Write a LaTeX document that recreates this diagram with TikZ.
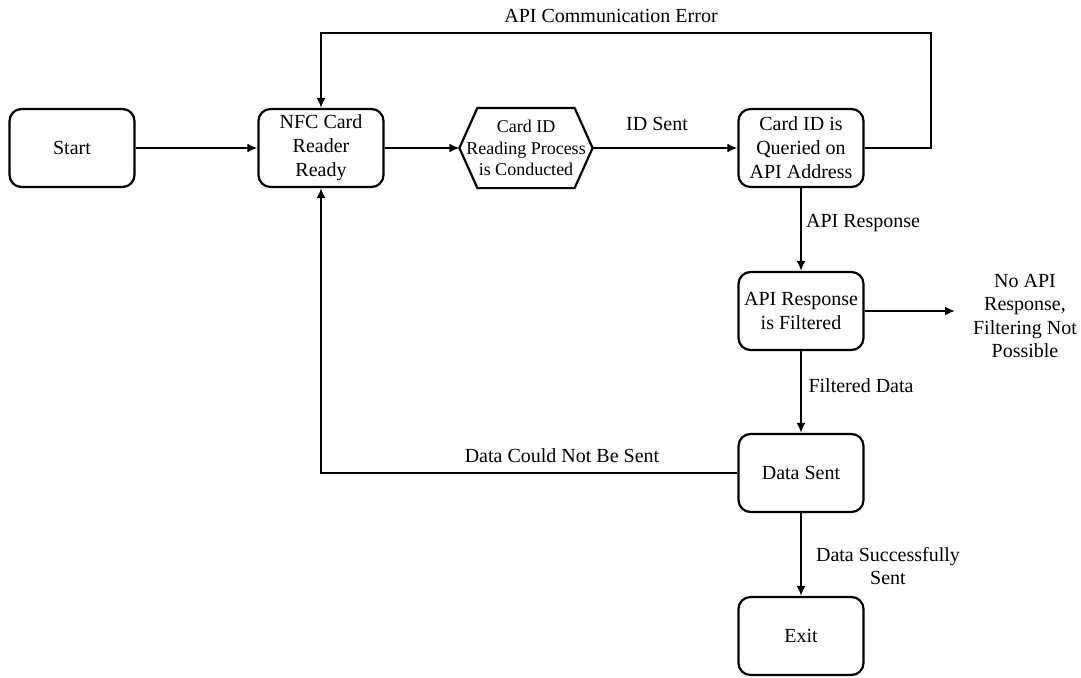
\documentclass[tikz,border=0pt]{standalone}
\usepackage{fontspec}
\setmainfont{Liberation Serif}
\newfontfamily\tnr{Liberation Serif}
\usetikzlibrary{arrows.meta}
\begin{document}
\begin{tikzpicture}[x=1pt,y=-1pt,
  line width=2.2pt,
  >={Latex[length=10pt,width=9pt]},
  stepbox/.style={draw, rounded corners=12pt, minimum width=125pt, minimum height=78pt,
    align=center, inner sep=2pt, font=\tnr\fontsize{20}{24}\selectfont},
  hexbox/.style={minimum width=131pt, minimum height=78pt, align=center, inner sep=0pt,
    font=\tnr\fontsize{18}{21.5}\selectfont},
  lbl/.style={align=center, inner sep=0pt, font=\tnr\fontsize{20}{23.5}\selectfont}]
\useasboundingbox (0,0) rectangle (1081,677);

% process steps
\node[stepbox] (start)  at (72,148)   {Start};
\node[stepbox] (nfc)    at (321,148)  {NFC Card\\Reader\\Ready};
\node[hexbox]  (read)   at (526,148)  {Card ID\\Reading Process\\is Conducted};
\node[stepbox] (query)  at (801,148)  {Card ID is\\Queried on\\API Address};
\node[stepbox] (filter) at (801,311)  {API Response\\is Filtered};
\node[stepbox] (sent)   at (801,473)  {Data Sent};
\node[stepbox] (exit)   at (801,636)  {Exit};

% hexagonal outline of the reading step
\draw (read.west) -- ([xshift=18pt]read.north west) -- ([xshift=-18pt]read.north east)
  -- (read.east) -- ([xshift=-18pt]read.south east) -- ([xshift=18pt]read.south west) -- cycle;

% helper points for the routed connectors
\coordinate (errR) at (931,148);
\coordinate (errT) at (931,33);
\coordinate (errL) at (321,33);
\coordinate (failL) at (321,473);
\coordinate (noresp) at (955,311);

% connectors
\draw[->] (start.east) -- (nfc.west);
\draw[->] (nfc.east) -- (read.west);
\draw[->] (read.east) -- (query.west);
\draw[->] (query.east) -- (errR) -- (errT) -- (errL) -- (nfc.north);
\draw[->] (query.south) -- (filter.north);
\draw[->] (filter.east) -- (noresp);
\draw[->] (filter.south) -- (sent.north);
\draw[->] (sent.west) -- (failL) -- (nfc.south);
\draw[->] (sent.south) -- (exit.north);

% connector labels
\node[lbl] (lerr)   at (611,16)  {API Communication Error};
\node[lbl] (lid)    at (657,124) {ID Sent};
\node[lbl] (lresp)  at (863,223) {API Response};
\node[lbl] (lno)    at (1025,316) {No API\\Response,\\Filtering Not\\Possible};
\node[lbl] (lfilt)  at (861,386) {Filtered Data};
\node[lbl] (lfail)  at (562,456) {Data Could Not Be Sent};
\node[lbl] (lok)    at (888,566) {Data Successfully\\Sent};
\end{tikzpicture}
\end{document}
